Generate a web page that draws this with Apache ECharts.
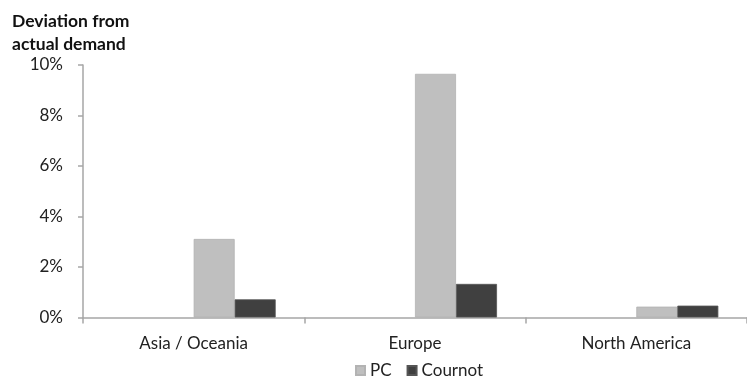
<!DOCTYPE html>
<html>
<head>
<meta charset="utf-8">
<script src="https://cdn.jsdelivr.net/npm/echarts@6/dist/echarts.min.js"></script>
<style>
html,body{margin:0;padding:0;background:#fff;}
#chart{width:747px;height:377px;}
</style>
</head>
<body>
<div id="chart"></div>
<script>
// Regions along the x axis
const categories = ['Asia / Oceania', 'Europe', 'North America'];
// Deviation from actual demand, in percent
const pcValues = [3.11, 9.65, 0.43];
const cournotValues = [0.72, 1.33, 0.47];
// Two unused slots precede the plotted series in each group
const blankValues = [null, null, null];
const yTicks = { min: 0, max: 10, interval: 2 };

const font = 'Lato, "Open Sans", sans-serif';
const axisGray = '#a6a6a6';

const chart = echarts.init(document.getElementById('chart'));
chart.setOption({
  animation: false,
  textStyle: { fontFamily: font },
  graphic: [{
    type: 'text',
    left: 12,
    top: 10,
    style: {
      text: 'Deviation from\nactual demand',
      font: 'bold 17.5px ' + font,
      fill: '#111',
      lineHeight: 23
    }
  }],
  legend: {
    data: ['PC', 'Cournot'],
    left: 355,
    top: 362,
    padding: 0,
    itemWidth: 9,
    itemHeight: 9,
    itemGap: 15,
    icon: 'rect',
    textStyle: { fontSize: 17, color: '#222', fontFamily: font, padding: [0, 0, 0, 0] }
  },
  grid: { left: 83, right: -12, top: 65, bottom: 59.5, containLabel: false },
  xAxis: {
    type: 'category',
    data: categories,
    axisLine: { lineStyle: { color: axisGray, width: 1.5 } },
    axisTick: { show: true, length: 6, lineStyle: { color: axisGray, width: 1.5 } },
    axisLabel: { fontSize: 17, color: '#222', margin: 18, fontFamily: font }
  },
  yAxis: {
    type: 'value',
    min: yTicks.min,
    max: yTicks.max,
    interval: yTicks.interval,
    axisLine: { show: true, lineStyle: { color: axisGray, width: 1.5 } },
    axisTick: { show: true, length: 5, lineStyle: { color: axisGray, width: 1.5 } },
    splitLine: { show: false },
    axisLabel: { fontSize: 17, color: '#222', margin: 20, fontFamily: font, formatter: '{value}%' }
  },
  series: [
    { name: 'blank1', type: 'bar', data: blankValues, barWidth: 41, barGap: '0%' },
    { name: 'blank2', type: 'bar', data: blankValues, barWidth: 41, barGap: '0%' },
    {
      name: 'PC', type: 'bar', data: pcValues, barWidth: 41, barGap: '0%',
      itemStyle: { color: '#bfbfbf', borderColor: '#b3b3b3', borderWidth: 0.8 }
    },
    {
      name: 'Cournot', type: 'bar', data: cournotValues, barWidth: 41, barGap: '0%',
      itemStyle: { color: '#404040', borderColor: '#555', borderWidth: 0.8 }
    }
  ]
});
</script>
</body>
</html>
